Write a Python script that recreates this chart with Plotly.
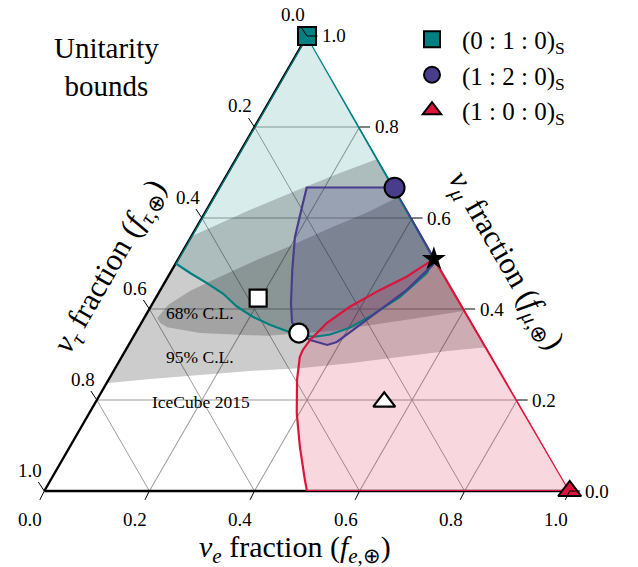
import plotly.graph_objects as go

FONT = "Liberation Serif"

# ---------------- data (fe = nu_e fraction, fmu = nu_mu fraction; ftau = 1 - fe - fmu)
# Unitarity bound, source (0:1:0)_S
teal_fe  = [0.0, 0.0, 0.040, 0.081, 0.123, 0.163, 0.205, 0.248, 0.290, 0.315, 0.345, 0.372, 0.401, 0.430, 0.4635, 0.4886, 0.4865, 0.0]
teal_fmu = [1.0, 0.5, 0.478, 0.457, 0.434, 0.406, 0.383, 0.365, 0.350, 0.342, 0.339, 0.344, 0.358, 0.386, 0.426, 0.479, 0.510, 1.0]

# Unitarity bound, source (1:2:0)_S
purple_fe  = [0.333, 0.166, 0.1785, 0.198, 0.229, 0.263, 0.286, 0.309, 0.340, 0.378, 0.393, 0.415, 0.440, 0.469, 0.491, 0.4865, 0.333]
purple_fmu = [0.667, 0.667, 0.624, 0.558, 0.486, 0.413, 0.371, 0.347, 0.332, 0.321, 0.3275, 0.360, 0.398, 0.442, 0.497, 0.510, 0.667]

# Unitarity bound, source (1:0:0)_S
red_fe  = [0.500, 1.0, 0.4865, 0.454, 0.418, 0.379, 0.353, 0.340, 0.337, 0.339, 0.359, 0.395, 0.438, 0.484, 0.500]
red_fmu = [0.0, 0.0, 0.510, 0.471, 0.442, 0.405, 0.369, 0.332, 0.310, 0.2945, 0.244, 0.171, 0.097, 0.024, 0.0]

# IceCube 2015 contours (clipped to the triangle)
ic95_fe  = [0.0, 0.083, 0.155, 0.213, 0.270, 0.684, 0.618, 0.529, 0.441, 0.352, 0.260, 0.169, 0.0785, 0.0, 0.0]
ic95_fmu = [0.560, 0.618, 0.664, 0.699, 0.730, 0.316, 0.308, 0.2945, 0.281, 0.270, 0.264, 0.255, 0.246, 0.237, 0.560]
ic68_fe  = [0.025, 0.031, 0.058, 0.089, 0.151, 0.198, 0.255, 0.312, 0.352, 0.604, 0.490, 0.374, 0.254, 0.123, 0.054, 0.036, 0.025]
ic68_fmu = [0.380, 0.409, 0.440, 0.464, 0.508, 0.538, 0.578, 0.615, 0.648, 0.396, 0.374, 0.352, 0.341, 0.347, 0.360, 0.369, 0.380]

# flavour ratios at source (legend markers) and at Earth (white markers)
src_names = ["(0 : 1 : 0)<sub>S</sub>", "(1 : 2 : 0)<sub>S</sub>", "(1 : 0 : 0)<sub>S</sub>"]
src_fe  = [0.0, 1/3, 1.0]
src_fmu = [1.0, 2/3, 0.0]
earth_fe  = [0.195, 0.311, 0.549]
earth_fmu = [0.424, 0.347, 0.196]
star_fe, star_fmu = [0.4865], [0.510]

tick_vals = [0.0, 0.2, 0.4, 0.6, 0.8, 1.0]
tick_text = ["0.0", "0.2", "0.4", "0.6", "0.8", "1.0"]

TEAL = "#008080"
PURPLE = "#483D8B"
RED = "#DC143C"

# ---------------- page geometry (the page body adds an 8px margin)
FIG_W, FIG_H, BODY = 630, 559, 8
PLOT_L, PLOT_R, PLOT_T, PLOT_B = 44, 570, 36, 491   # triangle box in window pixels


def PX(x):
    return (x - BODY) / FIG_W


def PY(y):
    return 1 - (y - BODY) / FIG_H


def tau(fe, fmu):
    return [max(0.0, 1.0 - e - m) for e, m in zip(fe, fmu)]


def tern(fe, fmu, **kw):
    # a = nu_mu (top), b = nu_tau (bottom left), c = nu_e (bottom right)
    return go.Scatterternary(a=fmu, b=tau(fe, fmu), c=fe, **kw)


fig = go.Figure()

# fills
fig.add_trace(tern(teal_fe, teal_fmu, mode="lines", fill="toself",
                   fillcolor="rgba(0,128,128,0.15)", line=dict(width=0), showlegend=False, hoverinfo="skip"))
fig.add_trace(tern(ic95_fe, ic95_fmu, mode="lines", fill="toself",
                   fillcolor="rgba(0,0,0,0.2)", line=dict(width=0), showlegend=False, hoverinfo="skip"))
fig.add_trace(tern(ic68_fe, ic68_fmu, mode="lines", fill="toself",
                   fillcolor="rgba(0,0,0,0.2)", line=dict(width=0), showlegend=False, hoverinfo="skip"))
fig.add_trace(tern(purple_fe, purple_fmu, mode="lines", fill="toself",
                   fillcolor="rgba(72,61,139,0.2)", line=dict(width=0), showlegend=False, hoverinfo="skip"))
fig.add_trace(tern(red_fe, red_fmu, mode="lines", fill="toself",
                   fillcolor="rgba(220,20,60,0.17)", line=dict(width=0), showlegend=False, hoverinfo="skip"))

# boundary lines
fig.add_trace(tern(teal_fe, teal_fmu, mode="lines", line=dict(color=TEAL, width=2.2),
                   showlegend=False, hoverinfo="skip", cliponaxis=False))
fig.add_trace(tern(purple_fe, purple_fmu, mode="lines", line=dict(color=PURPLE, width=2.2),
                   showlegend=False, hoverinfo="skip", cliponaxis=False))
fig.add_trace(tern(red_fe, red_fmu, mode="lines", line=dict(color=RED, width=2.2),
                   showlegend=False, hoverinfo="skip", cliponaxis=False))

# earth markers (white)
fig.add_trace(tern(earth_fe, earth_fmu, mode="markers", showlegend=False, cliponaxis=False,
                   marker=dict(symbol=["square", "circle", "triangle-up"], size=[17, 19, 19],
                               color="white", opacity=1, line=dict(color="black", width=2.2))))
fig.add_trace(tern(star_fe, star_fmu, mode="markers", showlegend=False, cliponaxis=False,
                   marker=dict(symbol="star", size=18, color="black", opacity=1, line=dict(width=0))))

# source markers (legend)
src_sym = ["square", "circle", "triangle-up"]
src_col = [TEAL, PURPLE, RED]
src_size = [18, 20, 20]
for i in range(3):
    fig.add_trace(tern([src_fe[i]], [src_fmu[i]], mode="markers", name=src_names[i],
                       cliponaxis=False,
                       marker=dict(symbol=src_sym[i], size=src_size[i], color=src_col[i], opacity=1,
                                   line=dict(color="black", width=2))))

axis_common = dict(
    title=dict(text=""),
    tickmode="array", tickvals=tick_vals,
    ticks="", showticklabels=False,
    showgrid=True, gridcolor="#9c9c9c", gridwidth=0.8,
    linecolor="black", linewidth=2.4, showline=True,
    layer="below traces", min=0,
)

fig.update_layout(
    width=FIG_W, height=FIG_H,
    margin=dict(l=0, r=0, t=0, b=0),
    paper_bgcolor="white",
    font=dict(family=FONT, size=18, color="black"),
    ternary=dict(
        sum=1, bgcolor="white",
        domain=dict(x=[PX(PLOT_L), PX(PLOT_R)], y=[PY(PLOT_B), PY(PLOT_T)]),
        aaxis=axis_common,
        baxis=axis_common,
        caxis={**axis_common, "showline": False},
    ),
    showlegend=True,
    legend=dict(x=PX(402), y=PY(16.5), xanchor="left", yanchor="top",
                font=dict(family=FONT, size=25, color="black"),
                bgcolor="rgba(0,0,0,0)", itemsizing="trace", itemwidth=50, tracegroupgap=0),
)

ann = [
    dict(text="Unitarity<br>bounds", x=PX(106), y=PY(67), font=dict(size=29)),
    dict(text="<i>ν</i><sub><i>τ</i></sub> fraction (<i>f</i><sub><i>τ</i>,⊕</sub>)", x=PX(111), y=PY(267),
         textangle=-60, font=dict(size=31)),
    dict(text="<i>ν</i><sub><i>μ</i></sub> fraction (<i>f</i><sub><i>μ</i>,⊕</sub>)", x=PX(505), y=PY(261),
         textangle=60, font=dict(size=31)),
    dict(text="<i>ν</i><sub><i>e</i></sub> fraction (<i>f</i><sub><i>e</i>,⊕</sub>)", x=PX(295), y=PY(549),
         font=dict(size=30)),
    dict(text="68% C.L.", x=PX(200), y=PY(313), font=dict(size=17.5)),
    dict(text="95% C.L.", x=PX(200), y=PY(357), font=dict(size=17.5)),
    dict(text="IceCube 2015", x=PX(201), y=PY(402), font=dict(size=17.5)),
]
for a in ann:
    a.update(xref="paper", yref="paper", showarrow=False, xanchor="center", yanchor="middle")
    a["font"] = dict(family=FONT, color="black", **a["font"])

# tick labels with tick marks (annotation arrows) along the three triangle edges
w_tri = (PLOT_B - PLOT_T) * 2 / 3 ** 0.5
BLX = (PLOT_L + PLOT_R) / 2 - w_tri / 2
BRX = (PLOT_L + PLOT_R) / 2 + w_tri / 2
TX = (PLOT_L + PLOT_R) / 2
tick_ann = []
for t, lab in zip(tick_vals, tick_text):
    # nu_tau axis (left edge), ticks pointing up-left
    tick_ann.append(dict(text=lab, x=PX(TX + (BLX - TX) * t), y=PY(PLOT_T + (PLOT_B - PLOT_T) * t),
                         ax=-14, ay=-21, startstandoff=0))
    # nu_e axis (bottom edge), ticks pointing down-left
    tick_ann.append(dict(text=lab, x=PX(BLX + (BRX - BLX) * t), y=PY(PLOT_B),
                         ax=-14, ay=28, startstandoff=8))
    # nu_mu axis (right edge), horizontal ticks
    tick_ann.append(dict(text=lab, x=PX(BRX + (TX - BRX) * t), y=PY(PLOT_B + (PLOT_T - PLOT_B) * t),
                         ax=27, ay=0, startstandoff=3))
for a in tick_ann:
    a.update(xref="paper", yref="paper", showarrow=True, arrowhead=0, arrowwidth=1,
             arrowcolor="black", font=dict(family=FONT, size=19, color="black"))

fig.update_layout(annotations=ann + tick_ann)

fig.write_html("out.html")
